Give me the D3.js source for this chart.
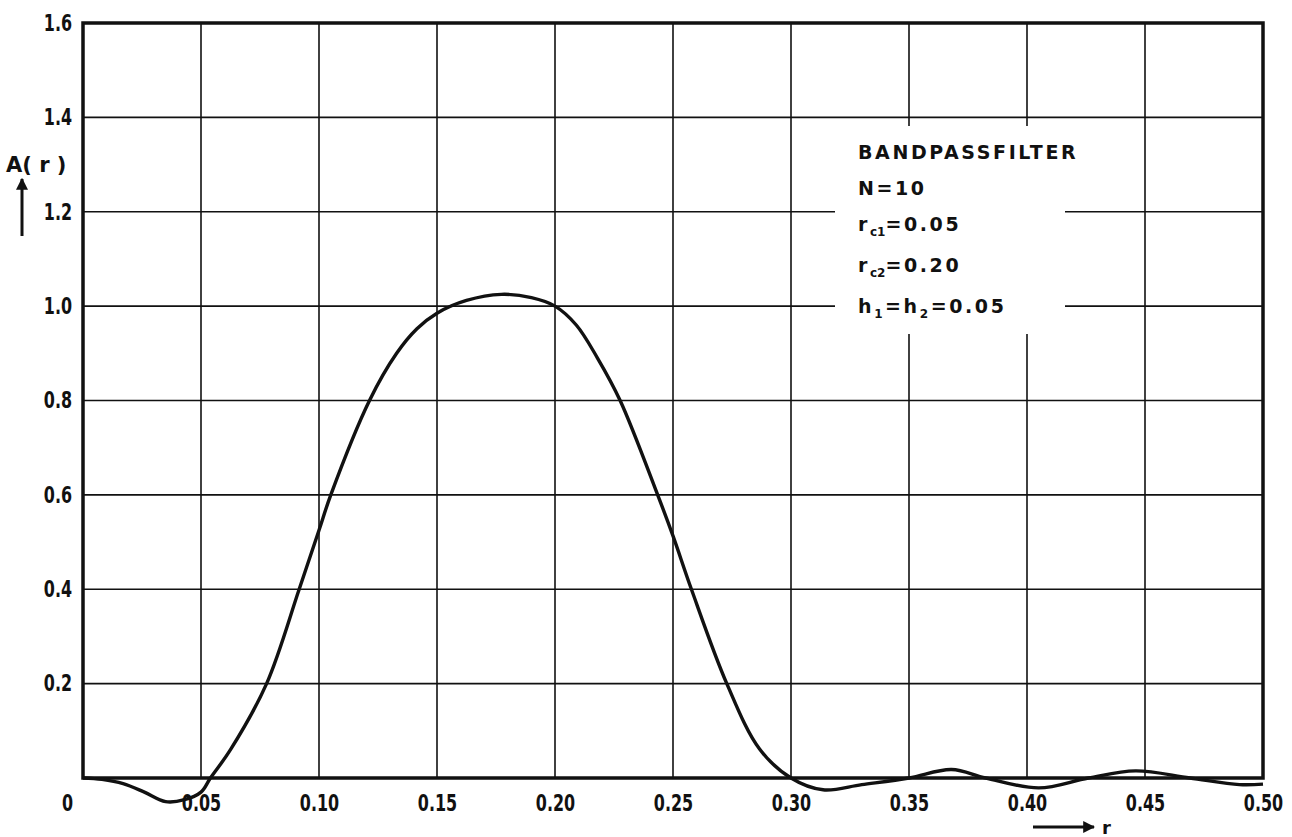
<!DOCTYPE html>
<html>
<head>
<meta charset="utf-8">
<script src="https://cdn.jsdelivr.net/npm/d3@7"></script>
<style>
  body { margin: 0; background: #fff; }
  svg { display: block; }
  .tick text { font-family: "DejaVu Sans Condensed", "DejaVu Sans", sans-serif; font-weight: bold; font-size: 23px; fill: #111; }
  .note { font-family: "DejaVu Sans", sans-serif; font-weight: bold; font-size: 19px; fill: #111; letter-spacing: 2.6px; }
</style>
</head>
<body>
<div id="chart"></div>
<script>
// data
var rValues = [0, 0.008, 0.017, 0.026, 0.035, 0.043, 0.05, 0.054, 0.0625, 0.0778, 0.0916, 0.10, 0.105, 0.1214, 0.1329, 0.1415, 0.15, 0.1625, 0.1773, 0.19, 0.20, 0.209, 0.218, 0.2276, 0.2435, 0.25, 0.2578, 0.2728, 0.2866, 0.30, 0.3136, 0.33, 0.35, 0.368, 0.3825, 0.405, 0.426, 0.446, 0.469, 0.49, 0.50];
var aValues = [0, -0.003, -0.012, -0.03, -0.05, -0.046, -0.03, 0.0, 0.06, 0.2, 0.4, 0.525, 0.6, 0.8, 0.9, 0.952, 0.985, 1.012, 1.025, 1.018, 1.0, 0.96, 0.89, 0.8, 0.6, 0.513, 0.4, 0.2, 0.062, 0.0, -0.025, -0.014, 0.0, 0.018, 0.0, -0.021, 0.0, 0.015, 0.0, -0.014, -0.013];
var xTicks = [0, 0.05, 0.10, 0.15, 0.20, 0.25, 0.30, 0.35, 0.40, 0.45, 0.50];
var yTicks = [0.2, 0.4, 0.6, 0.8, 1.0, 1.2, 1.4, 1.6];

var width = 1292, height = 837;
var plotLeft = 83, plotRight = 1263, plotTop = 23, plotBottom = 778;
var squeeze = 0.77; // narrow the tick digits like the scan

var svg = d3.select("#chart").append("svg")
  .attr("width", width)
  .attr("height", height);

var x = d3.scaleLinear().domain([0, 0.5]).range([plotLeft, plotRight]);
var y = d3.scaleLinear().domain([0, 1.6]).range([plotBottom, plotTop]);

// grid
svg.append("g").selectAll("line").data(xTicks.slice(1, -1)).enter().append("line")
  .attr("x1", function(d) { return x(d); })
  .attr("x2", function(d) { return x(d); })
  .attr("y1", plotTop).attr("y2", plotBottom)
  .style("stroke", "#111").style("stroke-width", 1.6);

svg.append("g").selectAll("line").data(yTicks.slice(0, -1)).enter().append("line")
  .attr("x1", plotLeft).attr("x2", plotRight)
  .attr("y1", function(d) { return y(d); })
  .attr("y2", function(d) { return y(d); })
  .style("stroke", "#111").style("stroke-width", 1.6);

// white patch behind the note
svg.append("rect")
  .attr("x", 835).attr("y", 126)
  .attr("width", 230).attr("height", 208)
  .style("fill", "#fff");

// frame
svg.append("rect")
  .attr("x", plotLeft).attr("y", plotTop)
  .attr("width", plotRight - plotLeft).attr("height", plotBottom - plotTop)
  .style("fill", "none")
  .style("stroke", "#111")
  .style("stroke-width", 3.5);

// axes (labels only)
var xAxis = svg.append("g")
  .attr("transform", "translate(0," + plotBottom + ")")
  .call(d3.axisBottom(x).tickValues(xTicks).tickSize(0).tickPadding(17)
    .tickFormat(function(d) { return d === 0 ? "0" : d3.format(".2f")(d); }));
xAxis.select(".domain").remove();
xAxis.selectAll(".tick text").attr("transform", "scale(" + squeeze + ",1)");
xAxis.selectAll(".tick").filter(function(d) { return d === 0; })
  .select("text").attr("dx", -16 / squeeze);

var yAxis = svg.append("g")
  .attr("transform", "translate(" + plotLeft + ",0)")
  .call(d3.axisLeft(y).tickValues(yTicks).tickSize(0).tickPadding(11)
    .tickFormat(d3.format(".1f")));
yAxis.select(".domain").remove();
yAxis.selectAll(".tick text")
  .attr("x", -11 / squeeze)
  .attr("transform", "scale(" + squeeze + ",1)");

// curve
var pts = rValues.map(function(r, i) { return [r, aValues[i]]; });
var line = d3.line()
  .x(function(d) { return x(d[0]); })
  .y(function(d) { return y(d[1]); })
  .curve(d3.curveCatmullRom.alpha(0.5));

svg.append("path")
  .attr("d", line(pts))
  .style("fill", "none")
  .style("stroke", "#111")
  .style("stroke-width", 3.4);

// axis titles and arrows
svg.append("defs").append("marker")
  .attr("id", "head")
  .attr("viewBox", "0 0 10 10")
  .attr("refX", 9).attr("refY", 5)
  .attr("markerWidth", 4).attr("markerHeight", 4)
  .attr("orient", "auto")
  .append("path").attr("d", "M0,0L10,5L0,10z").style("fill", "#111");

svg.append("text")
  .attr("class", "note")
  .attr("x", 6).attr("y", 172)
  .style("letter-spacing", "0px")
  .style("font-size", "21px")
  .text("A( r )");

svg.append("line")
  .attr("x1", 22).attr("x2", 22)
  .attr("y1", 236).attr("y2", 179)
  .style("stroke", "#111").style("stroke-width", 3)
  .attr("marker-end", "url(#head)");

svg.append("line")
  .attr("x1", 1033).attr("x2", 1094)
  .attr("y1", 827).attr("y2", 827)
  .style("stroke", "#111").style("stroke-width", 3)
  .attr("marker-end", "url(#head)");

svg.append("text")
  .attr("class", "note")
  .attr("x", 1102).attr("y", 834)
  .style("font-size", "18px")
  .style("letter-spacing", "0px")
  .text("r");

// note
var note = svg.append("g").attr("class", "note");
note.append("text").attr("x", 858).attr("y", 159).text("BANDPASSFILTER");
note.append("text").attr("x", 858).attr("y", 195).text("N=10");

var t3 = note.append("text").attr("x", 858).attr("y", 231);
t3.append("tspan").text("r");
t3.append("tspan").attr("dy", 5).style("font-size", "12px").style("letter-spacing", "0px").text("c1");
t3.append("tspan").attr("dy", -5).text("=0.05");

var t4 = note.append("text").attr("x", 858).attr("y", 272);
t4.append("tspan").text("r");
t4.append("tspan").attr("dy", 5).style("font-size", "12px").style("letter-spacing", "0px").text("c2");
t4.append("tspan").attr("dy", -5).text("=0.20");

var t5 = note.append("text").attr("x", 858).attr("y", 313);
t5.append("tspan").text("h");
t5.append("tspan").attr("dy", 5).style("font-size", "12px").text("1");
t5.append("tspan").attr("dy", -5).text("=h");
t5.append("tspan").attr("dy", 5).style("font-size", "12px").text("2");
t5.append("tspan").attr("dy", -5).text("=0.05");
</script>
</body>
</html>
